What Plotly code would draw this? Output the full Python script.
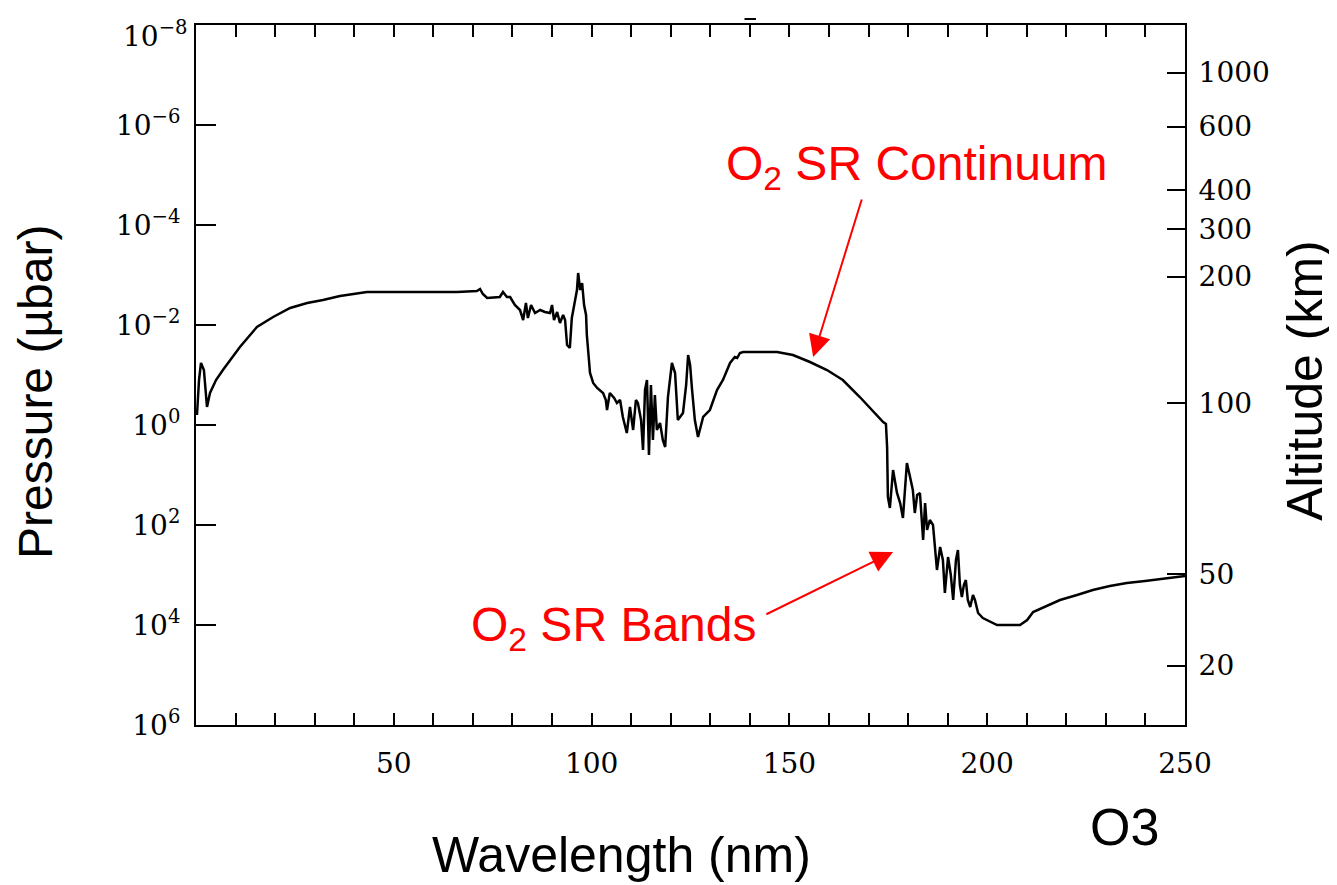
import plotly.graph_objects as go

# ---- data ----
wavelength_nm = [
    0.25, 0.76, 1.26, 2.0, 2.78, 3.54, 5.06, 6.8, 11.1, 15.4, 19.5, 23.8, 28.1, 32.1, 36.4, 43.2,
    52.3, 59.2, 66.0, 71.0, 71.8, 72.5, 73.6, 76.8, 77.6, 78.6, 79.4, 80.6, 81.9, 82.7, 83.4, 83.9,
    84.7, 85.7, 87.0, 88.2, 89.5, 90.0, 90.5, 91.3, 92.0, 92.8, 93.3, 93.8, 94.5, 95.0, 95.8, 96.3,
    96.6, 97.1, 97.6, 98.1, 98.6, 98.8, 99.6, 100.4, 101.4, 102.9, 103.6, 103.9, 104.6, 105.7, 106.4,
    107.2, 107.9, 108.9, 109.7, 110.5, 111.2, 111.7, 112.5, 113.0, 113.5, 114.0, 114.5, 115.0, 115.5,
    116.0, 116.5, 117.3, 118.0, 118.6, 119.3, 120.3, 121.1, 121.8, 123.1, 123.9, 124.4, 124.9, 125.4,
    126.1, 126.9, 128.2, 129.9, 131.7, 133.2, 135.0, 136.2, 136.8, 137.5, 138.3, 146.9, 150.9, 155.2,
    159.5, 163.5, 167.8, 173.7, 174.4, 174.7, 174.9, 175.4, 176.2, 177.2, 178.0, 178.7, 179.7, 180.5,
    181.2, 181.7, 182.3, 183.0, 183.8, 184.3, 184.8, 185.5, 186.3, 187.3, 188.1, 188.8, 189.3, 190.1,
    190.8, 191.4, 192.1, 192.6, 193.1, 193.6, 194.1, 194.6, 195.1, 195.7, 196.4, 196.9, 197.7, 198.9,
    201.5, 202.5, 208.3, 210.1, 211.6, 214.6, 218.4, 222.7, 226.7, 231.0, 235.3, 239.9, 243.7, 248.7,
    250.0,
]
log10_pressure_ubar = [
    -0.20, -0.90, -1.24, -1.10, -0.36, -0.64, -0.90, -1.10, -1.56, -1.96, -2.16, -2.34, -2.44, -2.50,
    -2.58, -2.66, -2.66, -2.66, -2.66, -2.68, -2.72, -2.62, -2.54, -2.56, -2.66, -2.56, -2.56, -2.40,
    -2.30, -2.10, -2.44, -2.14, -2.40, -2.24, -2.30, -2.26, -2.24, -2.40, -2.10, -2.26, -2.04, -2.20,
    -2.10, -1.60, -1.54, -2.14, -2.50, -2.70, -3.04, -2.70, -2.84, -2.40, -2.20, -1.80, -1.04, -0.84,
    -0.74, -0.64, -0.50, -0.30, -0.64, -0.54, -0.44, -0.50, -0.16, 0.16, -0.36, 0.10, -0.50, -0.44,
    -0.10, 0.50, -0.70, -0.90, 0.60, -0.80, 0.30, -0.60, 0.10, -0.04, 0.30, 0.44, -0.56, -1.24, -1.04,
    -0.10, -0.24, -0.80, -1.40, -1.20, -0.70, -0.10, 0.24, -0.16, -0.30, -0.70, -0.90, -1.24, -1.36,
    -1.34, -1.44, -1.46, -1.46, -1.40, -1.26, -1.10, -0.90, -0.56, -0.06, -0.02, 0.44, 1.44, 1.66,
    0.90, 1.36, 1.56, 1.86, 0.76, 1.04, 1.30, 1.76, 1.40, 1.36, 2.30, 1.56, 2.10, 1.90, 2.00, 2.90,
    2.44, 2.70, 3.36, 2.64, 3.00, 3.50, 2.70, 2.50, 3.20, 3.44, 3.20, 3.10, 3.50, 3.64, 3.40, 3.50,
    3.76, 3.86, 3.96, 4.00, 4.00, 3.90, 3.74, 3.64, 3.50, 3.40, 3.30, 3.22, 3.16, 3.12, 3.08, 3.04,
    3.02,
]
pressure_ubar = [10 ** v for v in log10_pressure_ubar]

pressure_tick_exponents = [-8, -6, -4, -2, 0, 2, 4, 6]
pressure_tick_labels = ["10<sup>−8</sup>", "10<sup>−6</sup>", "10<sup>−4</sup>", "10<sup>−2</sup>",
                        "10<sup>0</sup>", "10<sup>2</sup>", "10<sup>4</sup>", "10<sup>6</sup>"]

altitude_km_labels = ["1000", "600", "400", "300", "200", "100", "50", "20"]
altitude_tick_log10_pressure = [-7.05, -5.97, -4.70, -3.92, -2.97, -0.44, 2.98, 4.81]

wavelength_ticks = [50, 100, 150, 200, 250]
wavelength_tick_labels = ["50", "100", "150", "200", "250"]

# ---- figure ----
tickfont = dict(family="DejaVu Serif", size=28, color="black")
fig = go.Figure()
fig.add_trace(go.Scatter(x=wavelength_nm, y=pressure_ubar, mode="lines",
                         line=dict(color="black", width=2.5), showlegend=False, hoverinfo="skip"))
fig.add_trace(go.Scatter(x=[None], y=[None], yaxis="y2", showlegend=False, hoverinfo="skip"))

# the top label (10^-8) sits slightly below its tick, drawn as an annotation below
left_ticktext = [""] + pressure_tick_labels[1:]

fig.update_layout(
    width=1329, height=877,
    margin=dict(l=188, r=152, t=17, b=160, autoexpand=False),
    paper_bgcolor="white", plot_bgcolor="white",
    xaxis=dict(range=[0, 250], tickmode="array", tickvals=wavelength_ticks, ticktext=wavelength_tick_labels,
               ticks="inside", ticklen=12, tickwidth=1.5, tickcolor="black",
               showline=True, linecolor="black", linewidth=2, mirror="allticks",
               showgrid=False, zeroline=False, tickfont=tickfont, ticklabelstandoff=12,
               ticklabeloverflow="allow", automargin=False,
               minor=dict(dtick=10, ticks="inside", ticklen=7, tickwidth=1.5, tickcolor="black", showgrid=False)),
    yaxis=dict(type="log", range=[6, -8], tickmode="array",
               tickvals=[10 ** e for e in pressure_tick_exponents], ticktext=left_ticktext,
               ticks="inside", ticklen=20, tickwidth=1.5, tickcolor="black",
               showline=True, linecolor="black", linewidth=2,
               showgrid=False, zeroline=False, tickfont=tickfont, ticklabelstandoff=8,
               ticklabeloverflow="allow", automargin=False),
    yaxis2=dict(type="log", range=[6, -8], overlaying="y", side="right", tickmode="array",
                tickvals=[10 ** e for e in altitude_tick_log10_pressure], ticktext=altitude_km_labels,
                ticks="inside", ticklen=18, tickwidth=1.5, tickcolor="black",
                showline=True, linecolor="black", linewidth=2,
                showgrid=False, zeroline=False, tickfont=tickfont, ticklabelstandoff=6,
                ticklabeloverflow="allow", automargin=False),
)

sans = "Liberation Sans, Arial, sans-serif"
annotations = [
    dict(text=pressure_tick_labels[0], xref="paper", yref="y", x=0, y=pressure_tick_exponents[0],
         xanchor="right", yanchor="middle", xshift=-6, yshift=-9, showarrow=False, font=tickfont),
    dict(text="Pressure (µbar)", xref="paper", yref="paper", x=-0.1628, y=0.4757, textangle=-90,
         xanchor="center", yanchor="middle",
         showarrow=False, font=dict(family=sans, size=48, color="black")),
    dict(text="Altitude (km)", xref="paper", yref="paper", x=1.1213, y=0.493, textangle=-90,
         xanchor="center", yanchor="middle",
         showarrow=False, font=dict(family=sans, size=50, color="black")),
    dict(text="Wavelength (nm)", xref="paper", yref="paper", x=0.4307, y=-0.1857,
         xanchor="center", yanchor="middle",
         showarrow=False, font=dict(family=sans, size=50, color="black")),
    dict(text="O3", xref="paper", yref="paper", x=0.9393, y=-0.1457,
         xanchor="center", yanchor="middle",
         showarrow=False, font=dict(family=sans, size=52, color="black")),
    dict(text="O<sub>2</sub> SR Continuum", xref="paper", yref="paper", x=0.534, y=0.797,
         xanchor="left", yanchor="middle", showarrow=False, font=dict(family=sans, size=48, color="red")),
    dict(text="O<sub>2</sub> SR Bands", xref="paper", yref="paper", x=0.276, y=0.1386,
         xanchor="left", yanchor="middle", showarrow=False, font=dict(family=sans, size=48, color="red")),
    dict(text="", x=156.0, y=-1.36, ax=168.4, ay=-4.54, xref="x", yref="y", axref="x", ayref="y",
         showarrow=True, arrowhead=2, arrowsize=2.2, arrowwidth=2, arrowcolor="red"),
    dict(text="", x=176.2, y=2.54, ax=143.8, ay=3.8, xref="x", yref="y", axref="x", ayref="y",
         showarrow=True, arrowhead=2, arrowsize=2.2, arrowwidth=2, arrowcolor="red"),
]
fig.update_layout(annotations=annotations)

# small stray dash above the top frame, as in the reference
fig.add_shape(type="line", xref="paper", yref="paper", x0=0.5546, x1=0.5662, y0=1.0086, y1=1.0086,
              line=dict(color="black", width=2))

fig.write_html("out.html")
